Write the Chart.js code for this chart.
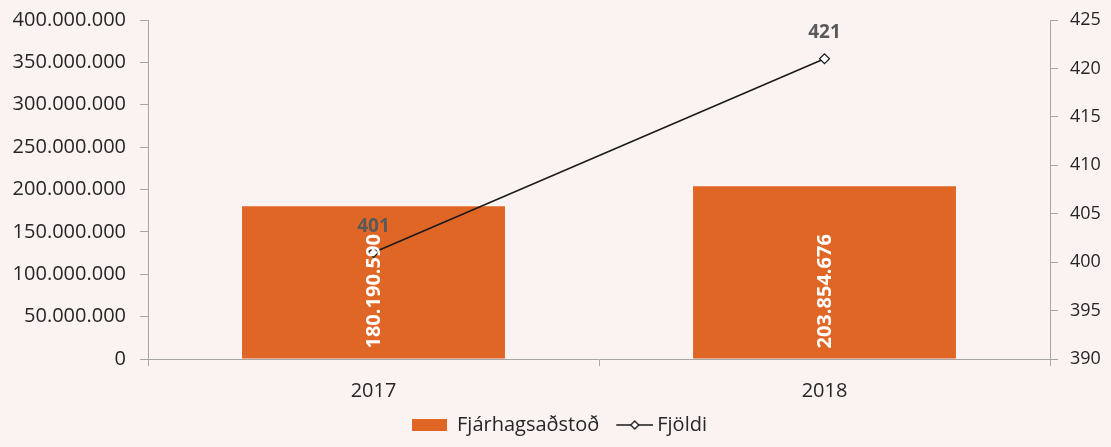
<!DOCTYPE html>
<html>
<head>
<meta charset="utf-8">
<script src="https://cdn.jsdelivr.net/npm/chart.js@4.4.1/dist/chart.umd.min.js"></script>
<style>
  html, body { margin: 0; padding: 0; background: #FAF3F1; }
  #wrap { width: 1111px; height: 447px; position: relative; }
</style>
</head>
<body>
<div id="wrap"><canvas id="c" width="1111" height="447"></canvas></div>
<script>
const categories = ['2017', '2018'];
const fjarhagsadstod = [180190590, 203854676];
const fjoldi = [401, 421];
const leftAxis = { min: 0, max: 400000000, step: 50000000 };
const rightAxis = { min: 390, max: 425, step: 5 };

const ORANGE = '#E06626';
const AXIS = '#A6A6A6';
const TEXT = '#262626';
const FONT = "'Open Sans', sans-serif";

function fmt(v) {
  return String(Math.round(v)).replace(/\B(?=(\d{3})+(?!\d))/g, '.');
}

// legend icon for the line series (line drawn at right part of image)
const lineIcon = document.createElement('canvas');
lineIcon.width = 47; lineIcon.height = 12;
(function () {
  const g = lineIcon.getContext('2d');
  g.strokeStyle = '#1a1a1a'; g.lineWidth = 1.3;
  g.beginPath(); g.moveTo(10, 6); g.lineTo(47, 6); g.stroke();
  g.beginPath();
  g.moveTo(28.5, 2); g.lineTo(32.5, 6); g.lineTo(28.5, 10); g.lineTo(24.5, 6); g.closePath();
  g.fillStyle = '#fff'; g.fill(); g.stroke();
})();

const legendLayoutPlugin = {
  id: 'legendLayout',
  afterInit(chart) {
    const lg = chart.legend;
    if (!lg) return;
    const orig = lg.fit.bind(lg);
    lg.fit = function () { orig(); this.height = 45; };
  },
  afterLayout(chart) {
    const lg = chart.legend;
    if (!lg) return;
    lg.left += 4; lg.right += 4;
  }
};

const labelPlugin = {
  id: 'valueLabels',
  afterDatasetsDraw(chart) {
    const ctx = chart.ctx;
    const barMeta = chart.getDatasetMeta(0);
    barMeta.data.forEach((bar, i) => {
      ctx.save();
      ctx.translate(bar.x, bar.base - 10);
      ctx.rotate(-Math.PI / 2);
      ctx.font = "bold 20px " + FONT;
      ctx.fillStyle = '#FFFFFF';
      ctx.textAlign = 'left';
      ctx.textBaseline = 'middle';
      ctx.fillText(fmt(chart.data.datasets[0].data[i]), 0, 1);
      ctx.restore();
    });
    const lineMeta = chart.getDatasetMeta(1);
    lineMeta.data.forEach((pt, i) => {
      ctx.save();
      ctx.font = "bold 19px " + FONT;
      ctx.fillStyle = '#595959';
      ctx.textAlign = 'center';
      ctx.textBaseline = 'middle';
      ctx.fillText(String(chart.data.datasets[1].data[i]), pt.x, pt.y - 26);
      ctx.restore();
    });
  }
};

function limitPadding(s) { s.paddingTop = 10; s.paddingBottom = 10; }

new Chart(document.getElementById('c'), {
  data: {
    labels: categories,
    datasets: [
      {
        type: 'bar',
        label: 'Fjárhagsaðstoð',
        data: fjarhagsadstod,
        backgroundColor: ORANGE,
        borderWidth: 0,
        yAxisID: 'y',
        barPercentage: 0.583,
        categoryPercentage: 1.0,
        order: 1
      },
      {
        type: 'line',
        label: 'Fjöldi',
        data: fjoldi,
        borderColor: '#1a1a1a',
        borderWidth: 1.5,
        pointStyle: 'rectRot',
        pointRadius: 5,
        pointBackgroundColor: '#FFFFFF',
        pointBorderColor: '#1a1a1a',
        pointBorderWidth: 1.2,
        yAxisID: 'y1',
        tension: 0,
        order: 0
      }
    ]
  },
  options: {
    responsive: false,
    animation: false,
    layout: { padding: { top: 20, left: 0, right: 0, bottom: 0 } },
    plugins: {
      tooltip: { enabled: false },
      legend: {
        position: 'bottom',
        labels: {
          usePointStyle: true,
          pointStyleWidth: 35,
          boxHeight: 12,
          padding: 13,
          color: TEXT,
          font: { family: FONT, size: 20 },
          generateLabels(chart) {
            return [
              { text: 'Fjárhagsaðstoð', fillStyle: ORANGE, strokeStyle: ORANGE, lineWidth: 0, pointStyle: 'rect', datasetIndex: 0, fontColor: TEXT },
              { text: 'Fjöldi', fillStyle: 'rgba(0,0,0,0)', strokeStyle: 'rgba(0,0,0,0)', lineWidth: 0, pointStyle: lineIcon, datasetIndex: 1, fontColor: TEXT }
            ];
          }
        }
      }
    },
    scales: {
      x: {
        offset: true,
        grid: { display: true, drawOnChartArea: false, offset: true, color: AXIS, tickLength: 7 },
        border: { display: true, color: AXIS, width: 1 },
        ticks: { color: TEXT, font: { family: FONT, size: 20 }, padding: 13 },
        afterFit(s) { s.height = 43; }
      },
      y: {
        position: 'left',
        min: leftAxis.min, max: leftAxis.max,
        grid: { display: true, drawOnChartArea: false, color: AXIS, tickLength: 8 },
        border: { display: true, color: AXIS, width: 1 },
        ticks: { stepSize: leftAxis.step, color: TEXT, font: { family: FONT, size: 20 }, padding: 14, callback: v => fmt(v) },
        afterFit(s) { s.width = 148; limitPadding(s); }
      },
      y1: {
        position: 'right',
        min: rightAxis.min, max: rightAxis.max,
        grid: { display: true, drawOnChartArea: false, color: AXIS, tickLength: 8 },
        border: { display: true, color: AXIS, width: 1 },
        ticks: { stepSize: rightAxis.step, color: TEXT, font: { family: FONT, size: 18 }, padding: 12 },
        afterFit(s) { s.width = 61; limitPadding(s); }
      }
    }
  },
  plugins: [legendLayoutPlugin, labelPlugin]
});
</script>
</body>
</html>
